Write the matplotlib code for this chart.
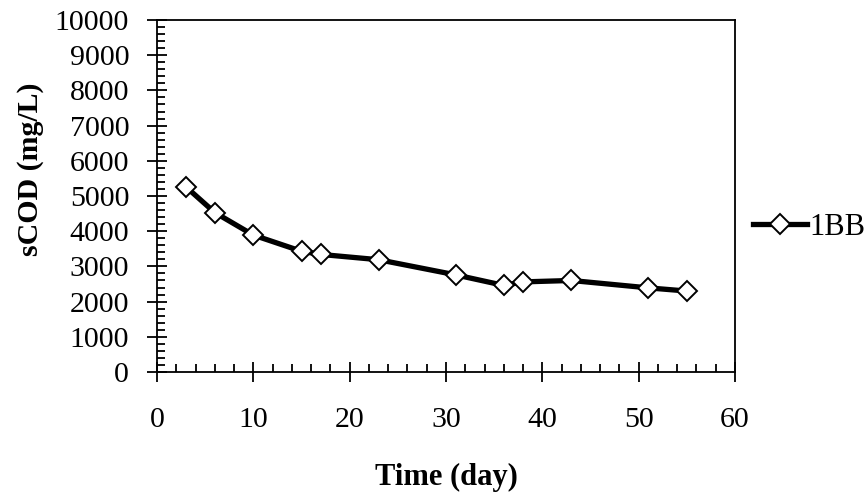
import matplotlib
matplotlib.use("Agg")
import matplotlib.pyplot as plt
from matplotlib.ticker import MultipleLocator

# ── Data ──────────────────────────────────────────────────────────────────────
time_day = [3, 6, 10, 15, 17, 23, 31, 36, 38, 43, 51, 55]
scod_mgl = [5260, 4530, 3890, 3430, 3340, 3190, 2760, 2460, 2560, 2600, 2390, 2300]
series_name = "1BB"

plt.rcParams["font.family"] = ["Liberation Serif", "DejaVu Serif"]

fig = plt.figure(figsize=(8.65, 4.99), dpi=100)
ax = fig.add_axes([157 / 865, 1 - 372 / 499, (735 - 157) / 865, (372 - 20) / 499])

ax.plot(time_day, scod_mgl, color="black", linewidth=3.8,
        marker="D", markersize=10, markerfacecolor="white",
        markeredgecolor="black", markeredgewidth=1.4, label=series_name)

ax.set_xlim(0, 60)
ax.set_ylim(0, 10000)
ax.xaxis.set_major_locator(MultipleLocator(10))
ax.xaxis.set_minor_locator(MultipleLocator(2))
ax.yaxis.set_major_locator(MultipleLocator(1000))
ax.yaxis.set_minor_locator(MultipleLocator(200))

for spine in ax.spines.values():
    spine.set_linewidth(1.3)

ax.tick_params(which="major", direction="inout", length=14, width=1.3,
               labelsize=21.5)
ax.tick_params(axis="x", which="major", pad=18)
ax.tick_params(axis="y", which="major", pad=13)
ax.tick_params(which="minor", direction="in", length=6, width=1.3)

ax.set_xlabel("Time (day)", fontsize=22, fontweight="bold", labelpad=22)
fig.text(31 / 865, 1 - 169 / 499, "sCOD (mg/L)", rotation=90,
         fontsize=21.5, fontweight="bold", ha="center", va="center")

ax.legend(loc="center left", bbox_to_anchor=(1.0, 0.41), frameon=False,
          fontsize=22, handlelength=1.75, handletextpad=0.1,
          borderaxespad=0.2)

fig.savefig("out.png", dpi=100)
plt.close(fig)
